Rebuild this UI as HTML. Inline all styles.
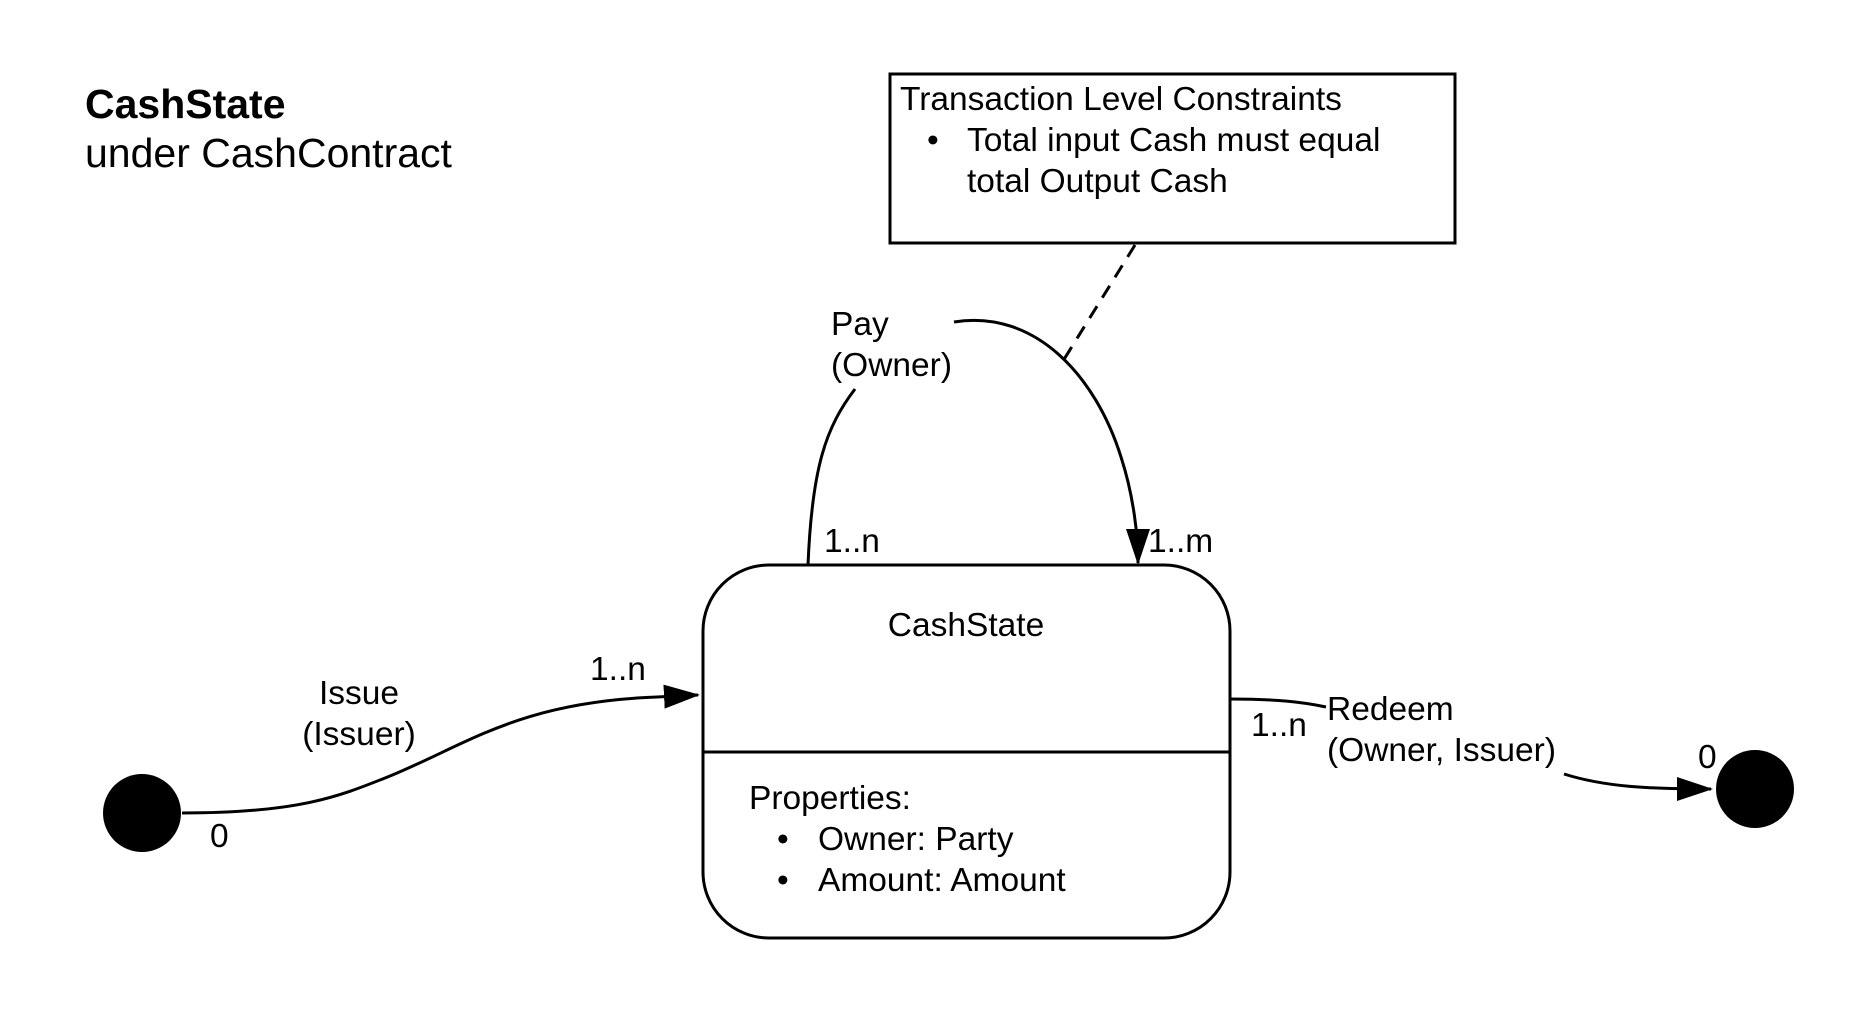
<!DOCTYPE html>
<html><head><meta charset="utf-8"><style>
body{margin:0;background:#fff;}
svg{display:block;}
text{font-family:"Liberation Sans",sans-serif;fill:#000;}
</style></head><body>
<svg width="1866" height="1013" viewBox="0 0 1866 1013" xmlns="http://www.w3.org/2000/svg">
<defs>
<marker id="b" markerWidth="36" markerHeight="24" refX="34" refY="12" orient="auto" markerUnits="userSpaceOnUse" viewBox="0 0 36 24"><path d="M0,0 L36,12 L0,24 z" fill="#000"/></marker></defs>
<g transform="translate(-5,-3)">
<text x="90" y="121" font-size="41" font-weight="bold">CashState</text>
<text x="90" y="170" font-size="41">under CashContract</text>
<rect x="895" y="77" width="565" height="169" fill="#fff" stroke="#000" stroke-width="3"/>
<text x="905" y="113" font-size="33.5">Transaction Level Constraints</text>
<text x="932" y="154" font-size="33.5">•</text>
<text x="972" y="154" font-size="33.5">Total input Cash must equal</text>
<text x="972" y="195" font-size="33.5">total Output Cash</text>
<line x1="1140" y1="248" x2="1068" y2="364" stroke="#000" stroke-width="3" stroke-dasharray="14,10"/>
<rect x="708" y="568" width="527" height="373" rx="66" ry="66" fill="#fff" stroke="#000" stroke-width="3"/>
<line x1="708" y1="755" x2="1235" y2="755" stroke="#000" stroke-width="3"/>
<text x="971" y="639" font-size="33.5" text-anchor="middle">CashState</text>
<text x="754" y="812" font-size="33.5">Properties:</text>
<text x="782" y="853" font-size="33.5">•</text>
<text x="823" y="853" font-size="33.5">Owner: Party</text>
<text x="782" y="894" font-size="33.5">•</text>
<text x="823" y="894" font-size="33.5">Amount: Amount</text>
<path d="M813,568 C817,470 831,430 860,392" fill="none" stroke="#000" stroke-width="3"/>
<path d="M959,325 C1041,312 1101,380 1126,460 C1139,500 1143,540 1143,566" fill="none" stroke="#000" stroke-width="3" marker-end="url(#b)"/>
<text x="836" y="338" font-size="33.5">Pay</text>
<text x="836" y="379" font-size="33.5">(Owner)</text>
<text x="829" y="555" font-size="33.5">1..n</text>
<text x="1153" y="555" font-size="33.5">1..m</text>
<circle cx="147" cy="816" r="39" fill="#000"/>
<path d="M187,816 C305,816 345,799 395,779 C475,746 525,705 662,700 L703,698" fill="none" stroke="#000" stroke-width="3" marker-end="url(#b)"/>
<text x="364" y="707" font-size="33.5" text-anchor="middle">Issue</text>
<text x="364" y="748" font-size="33.5" text-anchor="middle">(Issuer)</text>
<text x="595" y="683" font-size="33.5">1..n</text>
<text x="215" y="850" font-size="33.5">0</text>
<path d="M1235,702 C1281,702 1308,705 1331,710" fill="none" stroke="#000" stroke-width="3"/>
<text x="1332" y="723" font-size="33.5">Redeem</text>
<text x="1332" y="764" font-size="33.5">(Owner, Issuer)</text>
<text x="1256" y="739" font-size="33.5">1..n</text>
<path d="M1569,777 C1610,790 1655,792 1716,792" fill="none" stroke="#000" stroke-width="3" marker-end="url(#b)"/>
<text x="1703" y="771" font-size="33.5">0</text>
<circle cx="1760" cy="792" r="39" fill="#000"/>
</g>
</svg>
</body></html>
